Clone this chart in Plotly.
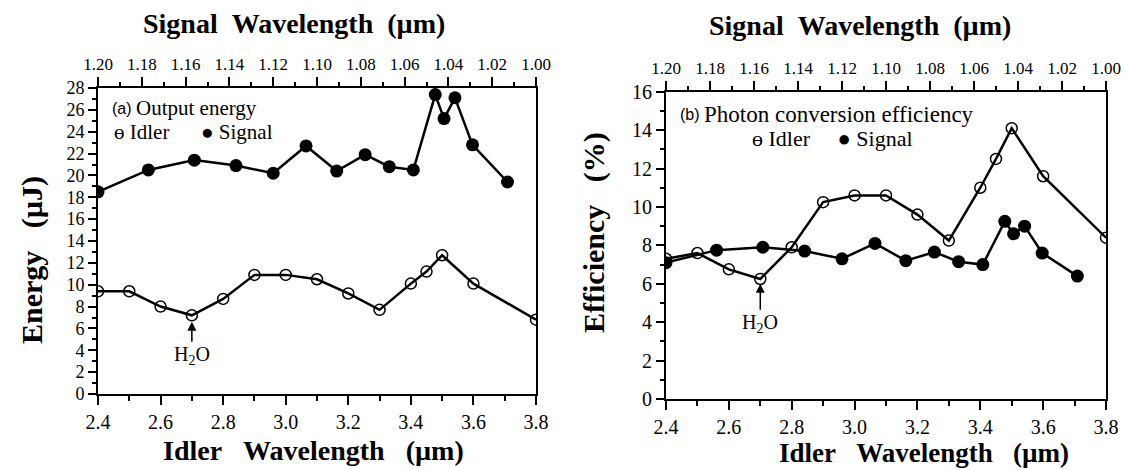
import plotly.graph_objects as go

# ---------------- data ----------------
idler_wl = [2.4, 2.5, 2.6, 2.7, 2.8, 2.9, 3.0, 3.1, 3.2, 3.3, 3.4, 3.45, 3.5, 3.6, 3.8]
signal_wl = [1.200, 1.177, 1.156, 1.137, 1.120, 1.105, 1.091, 1.078, 1.067, 1.056,
             1.046, 1.042, 1.037, 1.029, 1.013]

energy_idler = [9.4, 9.4, 8.0, 7.2, 8.7, 10.9, 10.9, 10.5, 9.2, 7.7, 10.1, 11.2, 12.7, 10.1, 6.8]
energy_signal = [18.5, 20.5, 21.4, 20.9, 20.2, 22.7, 20.4, 21.9, 20.8, 20.5, 27.4, 25.2, 27.1, 22.8, 19.4]

eff_idler = [7.3, 7.6, 6.75, 6.25, 7.9, 10.25, 10.6, 10.6, 9.6, 8.25, 11.0, 12.5, 14.1, 11.6, 8.4]
eff_signal = [7.1, 7.75, 7.9, 7.7, 7.3, 8.1, 7.2, 7.65, 7.15, 7.0, 9.25, 8.6, 9.0, 7.6, 6.4]

W, H = 1125, 470
SERIF = "'Times New Roman', 'Liberation Serif', Times, serif"
SANS = "'Liberation Sans', Arial, sans-serif"


def px(x):
    return x / W


def py(y):
    return 1 - y / H


fig = go.Figure()

line_style = dict(color="black", width=2.5)
idler_marker = dict(symbol="circle-open", size=11, color="black", line=dict(width=1.5, color="black"))
signal_marker = dict(symbol="circle", size=13, color="black")

# Left panel
fig.add_trace(go.Scatter(x=idler_wl, y=energy_idler, mode="lines+markers", line=line_style,
                         marker=idler_marker, xaxis="x", yaxis="y", showlegend=False))
fig.add_trace(go.Scatter(x=signal_wl, y=energy_signal, mode="lines+markers", line=line_style,
                         marker=signal_marker, xaxis="x3", yaxis="y", showlegend=False))
# Right panel
fig.add_trace(go.Scatter(x=idler_wl, y=eff_idler, mode="lines+markers", line=line_style,
                         marker=idler_marker, xaxis="x2", yaxis="y2", showlegend=False))
fig.add_trace(go.Scatter(x=signal_wl, y=eff_signal, mode="lines+markers", line=line_style,
                         marker=signal_marker, xaxis="x4", yaxis="y2", showlegend=False))

tickfont = dict(family=SERIF, size=20, color="black")
toptickfont = dict(family=SERIF, size=17, color="black")

common_x = dict(showline=True, linecolor="black", linewidth=2, ticks="outside", ticklen=9,
                tickwidth=2, tickcolor="black", showgrid=False, zeroline=False, automargin=False,
                tickfont=tickfont, dtick=0.2, tickformat=".1f",
                minor=dict(dtick=0.1, ticks="outside", ticklen=5, tickwidth=2, tickcolor="black"))
common_top = dict(showline=True, linecolor="black", linewidth=2, ticks="outside", ticklen=9,
                  tickwidth=2, tickcolor="black", showgrid=False, zeroline=False, automargin=False,
                  tickfont=toptickfont, dtick=0.02, tickformat=".2f", side="top",
                  range=[1.20, 1.00],
                  minor=dict(dtick=0.01, ticks="outside", ticklen=4, tickwidth=2, tickcolor="black"))
common_y = dict(showline=True, linecolor="black", linewidth=2, mirror=True, ticks="outside",
                ticklen=8, tickwidth=2, tickcolor="black", showgrid=False, zeroline=False,
                automargin=False, dtick=2,
                minor=dict(dtick=1, ticks="outside", ticklen=4, tickwidth=2, tickcolor="black"))

L = [px(98), px(536)]
R = [px(666), px(1106)]

fig.update_layout(
    width=W, height=H,
    margin=dict(l=0, r=0, t=0, b=0, autoexpand=False),
    paper_bgcolor="white", plot_bgcolor="white",
    font=dict(family=SERIF, color="black"),
    xaxis=dict(domain=L, range=[2.4, 3.8], anchor="y", **common_x),
    xaxis3=dict(overlaying="x", anchor="y", **common_top),
    yaxis=dict(domain=[py(394), py(88)], range=[0, 28], anchor="x",
               tickfont=dict(family=SERIF, size=18, color="black"), **common_y),
    xaxis2=dict(domain=R, range=[2.4, 3.8], anchor="y2", **common_x),
    xaxis4=dict(overlaying="x2", anchor="y2", **common_top),
    yaxis2=dict(domain=[py(399), py(91.7)], range=[0, 16], anchor="x2",
                tickfont=dict(family=SERIF, size=20, color="black"), **common_y),
)

ann = []


def text(x, y, s, size, bold=False, angle=0, xanchor="center", family=SERIF):
    ann.append(dict(xref="paper", yref="paper", x=px(x), y=py(y), text=("<b>%s</b>" % s) if bold else s,
                    showarrow=False, xanchor=xanchor, yanchor="middle", textangle=angle,
                    font=dict(family=family, size=size, color="black")))


# Axis titles
text(294, 24, "Signal&nbsp;&nbsp;Wavelength&nbsp;&nbsp;(µm)", 28, bold=True)
text(313, 450, "Idler&nbsp;&nbsp;&nbsp;Wavelength&nbsp;&nbsp;&nbsp;(µm)", 28, bold=True)
text(32, 260, "Energy&nbsp;&nbsp;&nbsp;(µJ)", 30, bold=True, angle=-90)
text(860, 25, "Signal&nbsp;&nbsp;Wavelength&nbsp;&nbsp;(µm)", 28, bold=True)
text(924, 453, "Idler&nbsp;&nbsp;&nbsp;Wavelength&nbsp;&nbsp;&nbsp;(µm)", 27, bold=True)
text(594, 233, "Efficiency&nbsp;&nbsp;&nbsp;(%)", 30, bold=True, angle=-90)

# Panel labels / legends
text(110, 108, "(a)", 16, xanchor="left", family=SANS)
text(134, 108, "Output energy", 21, xanchor="left")
text(112, 132, "ɵ Idler&nbsp;&nbsp;&nbsp;&nbsp;&nbsp;&nbsp;● Signal", 21, xanchor="left")
text(678, 115, "(b)", 16, xanchor="left", family=SANS)
text(702, 115, "Photon conversion efficiency", 23, xanchor="left")
text(750, 138, "ɵ Idler&nbsp;&nbsp;&nbsp;&nbsp;&nbsp;● Signal", 22, xanchor="left")

fig.update_layout(annotations=ann)

# H2O arrows
fig.add_annotation(x=2.7, y=6.6, xref="x", yref="y", text="H<sub>2</sub>O", showarrow=True,
                   ax=0, ay=34, arrowhead=2, arrowsize=1.2, arrowwidth=1.5, arrowcolor="black",
                   font=dict(family=SERIF, size=20, color="black"))
fig.add_annotation(x=2.7, y=6.0, xref="x2", yref="y2", text="H<sub>2</sub>O", showarrow=True,
                   ax=0, ay=40, arrowhead=2, arrowsize=1.2, arrowwidth=1.5, arrowcolor="black",
                   font=dict(family=SERIF, size=20, color="black"))

fig.write_html("out.html")
